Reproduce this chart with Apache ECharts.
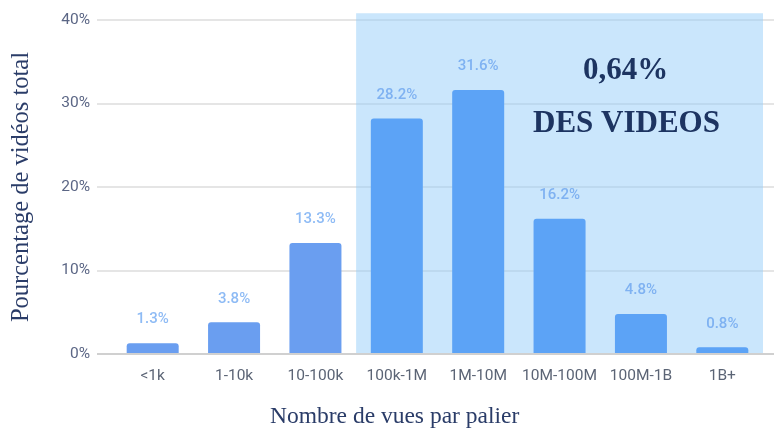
<!DOCTYPE html>
<html><head><meta charset="utf-8">
<script src="https://cdn.jsdelivr.net/npm/echarts@6/dist/echarts.min.js"></script>
<style>html,body{margin:0;padding:0;background:#fff}#c{width:774px;height:433px}</style>
</head><body><div id="c"></div>
<script>
const categories = ['<1k','1-10k','10-100k','100k-1M','1M-10M','10M-100M','100M-1B','1B+'];
const values = [1.3, 3.8, 13.3, 28.2, 31.6, 16.2, 4.8, 0.8];
const yTicks = [0, 10, 20, 30, 40];
const highlightFrom = '100k-1M';
const highlightTo = '1B+';
const yTitle = 'Pourcentage de vidéos total';
const xTitle = 'Nombre de vues par palier';
const noteLine1 = '0,64%';
const noteLine2 = 'DES VIDEOS';

const hiIdx = categories.indexOf(highlightFrom);
const chart = echarts.init(document.getElementById('c'), null, {renderer:'canvas'});
chart.setOption({
  animation:false,
  grid:[
    {left:97, right:0, top:20, bottom:79},
    {left:112, right:11, top:13.3, bottom:79}
  ],
  xAxis:[
    {gridIndex:0, type:'value', show:false, min:0, max:1},
    {gridIndex:1, type:'category', data:categories,
     axisLine:{show:false}, axisTick:{show:false},
     axisLabel:{interval:0, color:'#5b6475', fontSize:15.5, fontFamily:'Roboto', margin:14}}
  ],
  yAxis:[
    {gridIndex:0, type:'value', min:yTicks[0], max:yTicks[yTicks.length-1], interval:10,
     axisLabel:{formatter:'{value}%', color:'#5b6685', fontSize:15.5, fontFamily:'Roboto', margin:7},
     axisLine:{show:false}, axisTick:{show:false},
     splitLine:{show:true, lineStyle:{color:'#dcdcdc', width:1.5}},
     name:yTitle, nameLocation:'middle', nameGap:63, nameRotate:90,
     nameTextStyle:{fontFamily:'Liberation Serif', fontSize:24.5, color:'#2a3c68'}},
    {gridIndex:1, type:'value', min:0, max:40.8, show:false}
  ],
  graphic:[
    {type:'text', left:270, top:405, style:{text:xTitle, font:'23.5px "Liberation Serif"', fill:'#2a3c68'}},
    {type:'text', left:583, top:55, z:100, style:{text:noteLine1, font:'bold 31px "Liberation Serif"', fill:'#1d3461'}},
    {type:'text', left:533, top:108, z:100, style:{text:noteLine2, font:'bold 31px "Liberation Serif"', fill:'#1d3461'}}
  ],
  series:[
    {type:'line', xAxisIndex:0, yAxisIndex:0, data:[], silent:true,
     markLine:{symbol:'none', silent:true, label:{show:false},
       lineStyle:{color:'#d0d0d0', width:2, type:'solid'}, data:[{yAxis:0}]}},
    {type:'bar', xAxisIndex:1, yAxisIndex:1, barWidth:52,
     data: values.map((v,i)=>({value:v,
        itemStyle:{color: i>=hiIdx ? '#5ca3f6' : '#6a9ef0'},
        label:{color: i>=hiIdx ? '#7fb2f2' : '#8ebbf5'}})),
     itemStyle:{borderRadius:[3,3,0,0]},
     label:{show:true, position:'top', distance:16, formatter:'{c}%', fontSize:15, fontFamily:'Roboto', fontWeight:'500'},
     markArea:{silent:true, itemStyle:{color:'rgba(150,205,250,0.5)'},
       data:[[{xAxis:highlightFrom},{xAxis:highlightTo}]]}
    }
  ]
});
</script></body></html>
